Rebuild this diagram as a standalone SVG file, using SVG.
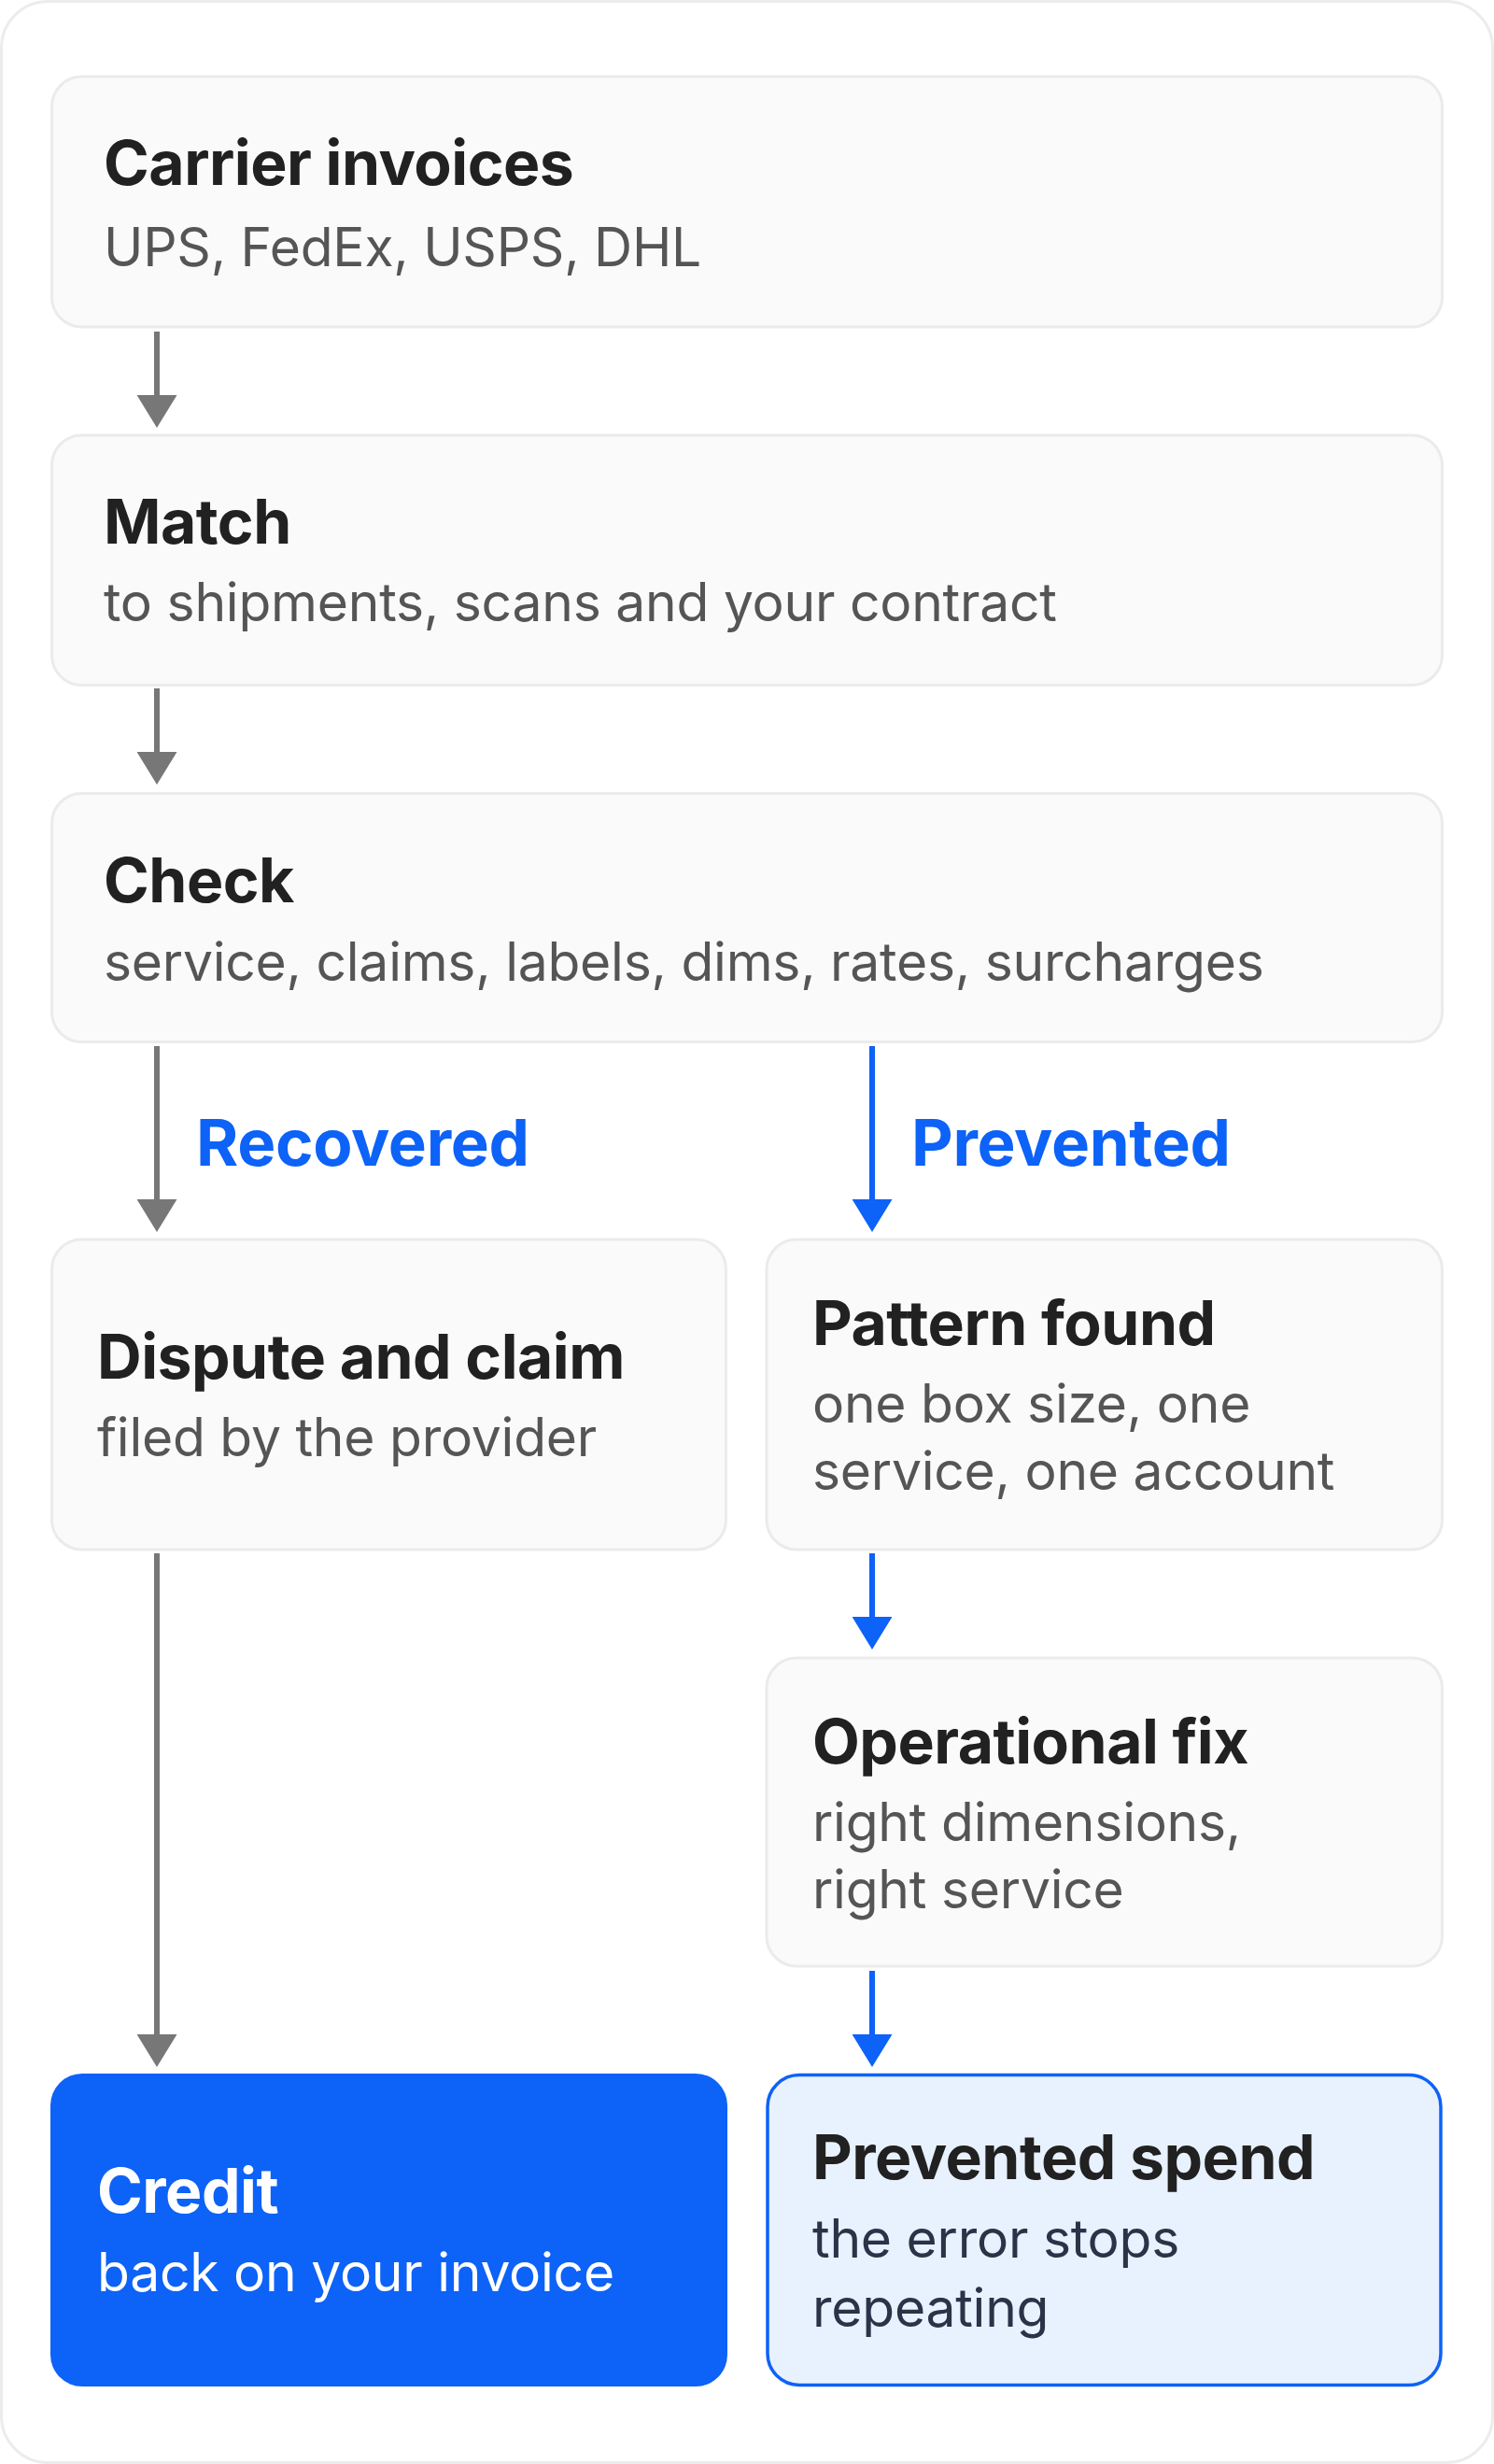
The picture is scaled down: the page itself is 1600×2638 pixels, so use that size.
<svg xmlns="http://www.w3.org/2000/svg" width="1600" height="2638" viewBox="0 0 1600 2638">
<defs>
<style>
.card{fill:#ffffff;stroke:#ececec;stroke-width:3}
.node{fill:#fafafa;stroke:#ebebeb;stroke-width:3}
.t{font-family:Inter,"Liberation Sans",sans-serif;font-weight:700;font-size:66px;letter-spacing:-0.5px;fill:#212121}
.s{font-family:Inter,"Liberation Sans",sans-serif;font-weight:400;font-size:57px;letter-spacing:-0.25px;fill:#555555}
.lbl{font-family:Inter,"Liberation Sans",sans-serif;font-weight:700;font-size:69px;letter-spacing:-0.3px;fill:#0d62f7}
.g{stroke:#777777;stroke-width:6;fill:none}
.b{stroke:#0d62f7;stroke-width:6;fill:none}
</style>
<marker id="hg" viewBox="0 0 35 43" refX="0" refY="21.5" markerWidth="35" markerHeight="43" markerUnits="userSpaceOnUse" orient="auto">
<path d="M0,0 L35,21.5 L0,43 Z" fill="#777777"/>
</marker>
<marker id="hb" viewBox="0 0 35 43" refX="0" refY="21.5" markerWidth="35" markerHeight="43" markerUnits="userSpaceOnUse" orient="auto">
<path d="M0,0 L35,21.5 L0,43 Z" fill="#0d62f7"/>
</marker>
</defs>
<rect class="card" x="1.5" y="1.5" width="1597" height="2635" rx="50"/>

<g id="connectors">
<path class="g" d="M168,355 V423" marker-end="url(#hg)"/>
<path class="g" d="M168,737 V805" marker-end="url(#hg)"/>
<path class="g" d="M168,1120 V1284" marker-end="url(#hg)"/>
<path class="b" d="M934,1120 V1284" marker-end="url(#hb)"/>
<path class="b" d="M934,1663 V1731" marker-end="url(#hb)"/>
<path class="g" d="M168,1663 V2178" marker-end="url(#hg)"/>
<path class="b" d="M934,2110 V2178" marker-end="url(#hb)"/>
<text class="lbl" x="210" y="1248">Recovered</text>
<text class="lbl" x="976" y="1248">Prevented</text>
</g>

<g id="carrier-invoices">
<rect class="node" x="55.5" y="82" width="1489" height="268" rx="32"/>
<text class="t" x="111" y="198">Carrier invoices</text>
<text class="s" x="111" y="285">UPS, FedEx, USPS, DHL</text>
</g>

<g id="match">
<rect class="node" x="55.5" y="466" width="1489" height="267.5" rx="32"/>
<text class="t" x="111" y="582">Match</text>
<text class="s" x="111" y="665">to shipments, scans and your contract</text>
</g>

<g id="check">
<rect class="node" x="55.5" y="849.5" width="1489" height="266" rx="32"/>
<text class="t" x="111" y="966">Check</text>
<text class="s" x="111" y="1050">service, claims, labels, dims, rates, surcharges</text>
</g>

<g id="dispute">
<rect class="node" x="55.5" y="1327" width="722" height="332" rx="32"/>
<text class="t" x="104" y="1476">Dispute and claim</text>
<text class="s" x="104" y="1559">filed by the provider</text>
</g>

<g id="pattern-found">
<rect class="node" x="821" y="1327" width="723.5" height="332" rx="32"/>
<text class="t" x="870" y="1440">Pattern found</text>
<text class="s" x="870" y="1523">one box size, one</text>
<text class="s" x="870" y="1595">service, one account</text>
</g>

<g id="operational-fix">
<rect class="node" x="821" y="1775" width="723.5" height="330" rx="32"/>
<text class="t" x="870" y="1888">Operational fix</text>
<text class="s" x="870" y="1971">right dimensions,</text>
<text class="s" x="870" y="2043">right service</text>
</g>

<g id="credit">
<rect x="54" y="2220" width="725" height="335" rx="34" fill="#0d62f7"/>
<text class="t" x="104" y="2369" style="fill:#ffffff">Credit</text>
<text class="s" x="104" y="2453" style="fill:#ffffff">back on your invoice</text>
</g>

<g id="prevented-spend">
<rect x="822" y="2221.5" width="721" height="332" rx="34" fill="#e8f1fe" stroke="#0d62f7" stroke-width="3.5"/>
<text class="t" x="870" y="2333">Prevented spend</text>
<text class="s" x="870" y="2417" style="fill:#2a3347">the error stops</text>
<text class="s" x="870" y="2491" style="fill:#2a3347">repeating</text>
</g>
</svg>
